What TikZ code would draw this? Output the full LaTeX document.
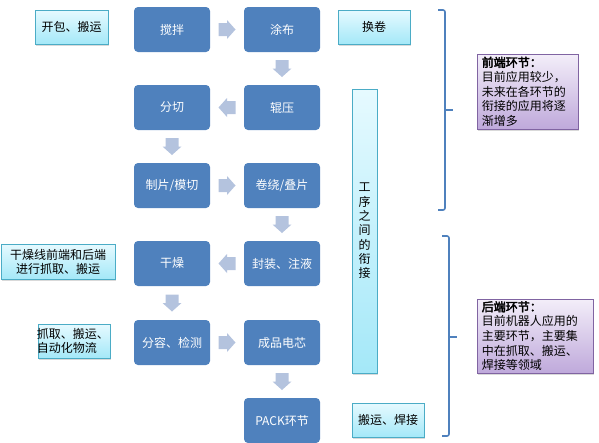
\documentclass[tikz,border=0pt]{standalone}
\usepackage{fontspec}
\setmainfont{Noto Sans CJK SC}
\newfontfamily\cjkb[FakeBold=3]{Noto Sans CJK SC}
\usetikzlibrary{shadows,calc}
\definecolor{procblue}{HTML}{4F81BD}
\definecolor{arrowgrey}{HTML}{B4C3DE}
\definecolor{cyantop}{HTML}{E6FAFF}
\definecolor{cyanbot}{HTML}{A4E8F8}
\definecolor{cyanedge}{HTML}{4BACC6}
\definecolor{purtop}{HTML}{F3EEF9}
\definecolor{purbot}{HTML}{BFA9DB}
\definecolor{puredge}{HTML}{8064A2}
\definecolor{bracecol}{HTML}{4F81BD}
\tikzset{
  procbox/.style={rectangle, rounded corners=4pt, fill=procblue, text=white,
    minimum width=76pt, minimum height=45pt, inner sep=0pt,
    font=\fontsize{12}{14}\selectfont},
  blockarrow/.pic={
    \fill[arrowgrey] (-8.5,-6.5) -- (0,-6.5) -- (0,-9.5) -- (8.5,0) -- (0,9.5)
      -- (0,6.5) -- (-8.5,6.5) -- cycle;
  },
  notebox/.style={rectangle, draw=cyanedge, line width=0.8pt, top color=cyantop,
    bottom color=cyanbot, inner sep=0pt, text=black,
    font=\fontsize{12}{14}\selectfont,
    drop shadow={opacity=0.3, shadow xshift=1pt, shadow yshift=-1.5pt}},
  sumbox/.style={rectangle, draw=puredge, line width=0.8pt, top color=purtop,
    bottom color=purbot, inner sep=0pt, text=black, align=left,
    font=\fontsize{12}{14.6}\selectfont,
    drop shadow={opacity=0.3, shadow xshift=1pt, shadow yshift=-1.5pt}},
  bracestyle/.style={draw=bracecol, line width=1.6pt, rounded corners=2pt}
}
\begin{document}
\begin{tikzpicture}[x=1pt,y=-1pt]
\useasboundingbox (0,0) rectangle (599,442);
% process boxes
\node[procbox] (jb) at (172,29.5) {搅拌};
\node[procbox] (tb) at (282,29.5) {涂布};
\node[procbox] (fq) at (172,107.5) {分切};
\node[procbox] (gy) at (282,107.5) {辊压};
\node[procbox] (zp) at (172,185.5) {制片/模切};
\node[procbox] (jr) at (282,185.5) {卷绕/叠片};
\node[procbox] (gz) at (172,263.5) {干燥};
\node[procbox] (fz) at (282,263.5) {封装、注液};
\node[procbox] (fr) at (172,342.5) {分容、检测};
\node[procbox] (cp) at (282,342.5) {成品电芯};
\node[procbox] (pk) at (282,420.5) {PACK环节};
% flow arrows
\pic at ($(jb.east)!0.5!(tb.west)$) {blockarrow};
\pic[rotate=-90] at ($(tb.south)!0.5!(gy.north)$) {blockarrow};
\pic[rotate=180] at ($(gy.west)!0.5!(fq.east)$) {blockarrow};
\pic[rotate=-90] at ($(fq.south)!0.5!(zp.north)$) {blockarrow};
\pic at ($(zp.east)!0.5!(jr.west)$) {blockarrow};
\pic[rotate=-90] at ($(jr.south)!0.5!(fz.north)$) {blockarrow};
\pic[rotate=180] at ($(fz.west)!0.5!(gz.east)$) {blockarrow};
\pic[rotate=-90] at ($(gz.south)!0.5!(fr.north)$) {blockarrow};
\pic at ($(fr.east)!0.5!(cp.west)$) {blockarrow};
\pic[rotate=-90] at ($(cp.south)!0.5!(pk.north)$) {blockarrow};
% note boxes
\node[notebox, minimum width=73pt, minimum height=34pt] (n1) at (71.5,27) {开包、搬运};
\node[notebox, minimum width=72pt, minimum height=34pt] (n2) at (374,27) {换卷};
\node[notebox, minimum width=25pt, minimum height=284pt, align=center,
  font=\fontsize{12}{14.3}\selectfont] (n3) at (364.5,231)
  {工\\序\\之\\间\\的\\衔\\接};
\node[notebox, minimum width=114pt, minimum height=35pt, align=center] (n4) at (58,261.5)
  {干燥线前端和后端\\进行抓取、搬运};
\node[notebox, minimum width=72pt, minimum height=34pt] (n5) at (74,341) {};
\node[anchor=west, inner sep=0pt, align=left, font=\fontsize{12}{14}\selectfont] (n5t)
  at ([xshift=-1pt]n5.west) {抓取、搬运、\\自动化物流};
\node[notebox, minimum width=72pt, minimum height=34pt] (n6) at (388,420) {搬运、焊接};
% summary boxes
\node[sumbox, minimum width=101pt, minimum height=75pt] (s1) at (527.5,91.5) {};
\node[anchor=west, inner sep=0pt, align=left, font=\fontsize{12}{14.6}\selectfont] (s1t)
  at ([xshift=5pt]s1.west)
  {{\cjkb 前端环节：}\\目前应用较少，\\未来在各环节的\\衔接的应用将逐\\渐增多};
\node[sumbox, minimum width=116pt, minimum height=74pt] (s2) at (535,336) {};
\node[anchor=west, inner sep=0pt, align=left, font=\fontsize{12}{14.6}\selectfont] (s2t)
  at ([xshift=5pt]s2.west)
  {{\cjkb 后端环节：}\\目前机器人应用的\\主要环节，主要集\\中在抓取、搬运、\\焊接等领域};
% braces
\coordinate (b1top) at (438,10);
\coordinate (b1bot) at (438,210);
\coordinate (b1mid) at (445,110);
\coordinate (b1tip) at (453,110);
\draw[bracestyle] (b1top) -| (445,210) -- (b1bot);
\draw[bracestyle] (b1mid) -- (b1tip);
\coordinate (b2top) at (442,236);
\coordinate (b2bot) at (442,436);
\coordinate (b2mid) at (449,337);
\coordinate (b2tip) at (457,337);
\draw[bracestyle] (b2top) -| (449,436) -- (b2bot);
\draw[bracestyle] (b2mid) -- (b2tip);
\end{tikzpicture}
\end{document}
